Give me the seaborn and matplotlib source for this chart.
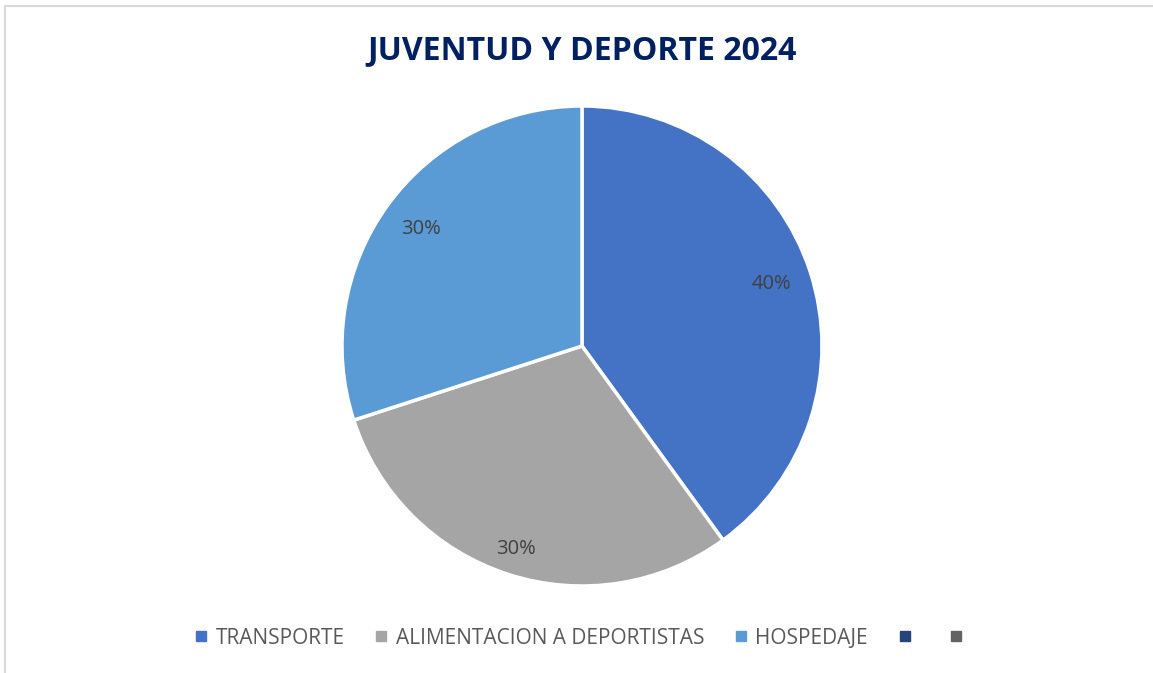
import numpy as np
import seaborn as sns
import matplotlib.pyplot as plt
from matplotlib.lines import Line2D
from matplotlib.patches import Rectangle

# data
categories = ['TRANSPORTE', 'ALIMENTACION A DEPORTISTAS', 'HOSPEDAJE']
values = [40, 30, 30]
colors = ['#4472C4', '#A5A5A5', '#5B9BD5']
# two empty legend entries shown in the original
extra_colors = ['#264478', '#636363']
# distance of each percent label from the centre (Excel "best fit")
label_dist = [0.83, 0.89, 0.83]

sns.set_theme(style='white')
plt.rcParams['font.family'] = ['Open Sans', 'DejaVu Sans']

fig = plt.figure(figsize=(11.53, 6.73), dpi=100)
ax = fig.add_axes([0.5048 - 0.2082, 0.4859 - 0.3566, 0.4163, 0.7132])

wedges, texts, autotexts = ax.pie(
    values, colors=colors, startangle=90, counterclock=False,
    autopct='%1.0f%%', pctdistance=0.84,
    wedgeprops=dict(edgecolor='white', linewidth=2.5),
    textprops=dict(color='#404040', fontsize=14.5))
for w, t, d in zip(wedges, autotexts, label_dist):
    ang = np.deg2rad((w.theta1 + w.theta2) / 2)
    t.set_position((d * np.cos(ang), d * np.sin(ang)))
ax.set_aspect('equal')
ax.set_xlim(-1, 1)
ax.set_ylim(-1, 1)

fig.text(0.5048, 0.925, 'JUVENTUD Y DEPORTE 2024', ha='center', va='center',
         fontsize=23, fontweight='bold', color='#002060')

handles = [Line2D([], [], marker='s', linestyle='none', markersize=7,
                  markerfacecolor=c, markeredgecolor=c)
           for c in colors + extra_colors]
labels = categories + ['', '']
fig.legend(handles, labels, loc='center', bbox_to_anchor=(0.5048, 0.052),
           ncol=5, frameon=False, fontsize=15, handlelength=0.7,
           handletextpad=0.35, columnspacing=1.4, labelcolor='#595959')

fig.patches.append(Rectangle((0.004, -0.01), 1.1, 1.0 - 0.0089 + 0.01,
                             transform=fig.transFigure, fill=False,
                             edgecolor='#D9D9D9', linewidth=1.5))

fig.savefig('out.png', dpi=100)
